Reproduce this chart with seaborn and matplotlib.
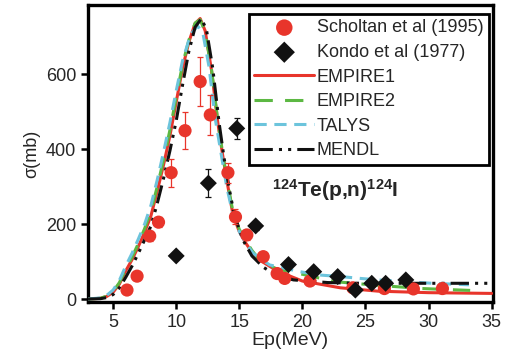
import numpy as np
import pandas as pd
import matplotlib
matplotlib.use("Agg")
import matplotlib.pyplot as plt
import seaborn as sns

# ---------------- data ----------------
sch_x = [6.1, 6.9, 7.9, 8.6, 9.6, 10.7, 11.9, 12.7, 14.1, 14.7, 15.6, 16.9, 18.0, 18.6, 20.6, 24.0, 26.5, 28.8, 31.1]
sch_y = [24, 61, 168, 205, 337, 449, 580, 491, 337, 219, 171, 113, 68, 55, 48, 30, 28, 27, 28]
sch_e = [5, 8, 12, 14, 37, 49, 65, 53, 27, 20, 14, 10, 8, 8, 8, 8, 8, 8, 8]

kon_x = [10.0, 12.55, 14.8, 16.3, 18.9, 20.9, 22.8, 24.2, 25.5, 26.6, 28.2]
kon_y = [115, 309, 455, 195, 92, 73, 60, 24, 42, 42, 51]
kon_e = [6, 38, 29, 10, 8, 8, 8, 8, 8, 12, 8]

emp1_x = [3, 4, 4.5, 5, 5.5, 6, 6.5, 7, 7.5, 8, 8.5, 9, 9.5, 10, 10.5, 11, 11.5, 11.9,
          12.3, 12.8, 13.3, 13.7, 14.1, 14.5, 15.0, 15.5, 16.0, 16.8, 18, 20, 23, 26, 30, 35]
emp1_y = [0, 2, 7, 18, 40, 75, 105, 140, 178, 222, 288, 358, 435, 525, 615, 685, 735, 748,
          715, 610, 470, 380, 300, 225, 180, 150, 125, 100, 75, 48, 30, 21, 17, 15]

emp2_x = [3, 4, 4.5, 5, 5.5, 6, 6.5, 7, 7.5, 8, 8.5, 9, 9.5, 10, 10.5, 11, 11.5, 11.9,
          12.3, 12.8, 13.3, 13.7, 14.1, 14.5, 15.0, 15.5, 16.0, 16.7, 18, 19.6, 22.7, 25.8, 29.5, 33.3]
emp2_y = [0, 2, 8, 20, 44, 80, 112, 148, 188, 235, 300, 372, 450, 538, 625, 690, 736, 745,
          712, 612, 475, 385, 305, 232, 186, 156, 130, 100, 80, 69, 46, 37, 28, 23]

tal_x = [3, 4, 4.5, 5, 5.5, 6, 6.5, 7, 7.5, 8, 8.5, 9, 9.5, 10, 10.5, 11, 11.3, 11.7,
         12.1, 12.6, 13.1, 13.6, 14.0, 14.5, 15.0, 15.5, 16.1, 17.4, 19.8, 21.4, 23, 24.6, 26, 30.3, 33.2]
tal_y = [0, 3, 10, 24, 50, 88, 122, 160, 200, 250, 318, 392, 470, 555, 635, 690, 712, 728,
         712, 620, 480, 380, 300, 225, 180, 150, 122, 91, 73, 64, 60, 55, 51, 42, 38]

men_x = [3, 4, 4.5, 5, 5.5, 6, 6.5, 7, 7.5, 8, 8.5, 9, 9.5, 10, 10.5, 11, 11.5, 12.0,
         12.4, 12.9, 13.4, 13.8, 14.2, 14.6, 15.3, 16.0, 16.9, 18, 19.3, 22, 24.6, 28, 31.6, 35]
men_y = [0, 1, 4, 12, 30, 58, 88, 122, 158, 195, 255, 322, 395, 475, 570, 660, 725, 748,
         718, 615, 470, 375, 295, 225, 157, 115, 85, 62, 51, 44, 42, 42, 42, 42]

xticks = [5, 10, 15, 20, 25, 30, 35]
yticks = [0, 200, 400, 600]

# ---------------- style ----------------
sns.set_style("ticks")
plt.rcParams["font.family"] = ["Liberation Sans", "DejaVu Sans"]
plt.rcParams["mathtext.fontset"] = "custom"
plt.rcParams["mathtext.rm"] = "Liberation Sans"
plt.rcParams["mathtext.bf"] = "Liberation Sans:bold"

RED = "#e8352b"
GREEN = "#5cb843"
CYAN = "#6cc4dc"
BLACK = "#111111"

fig = plt.figure(figsize=(5.05, 3.60), dpi=100)
ax = fig.add_axes([0.174, 0.161, 0.802, 0.825])

sns.lineplot(x=emp1_x, y=emp1_y, ax=ax, color=RED, lw=2.2, label="EMPIRE1",
             sort=False, estimator=None, zorder=3)
sns.lineplot(x=emp2_x, y=emp2_y, ax=ax, color=GREEN, lw=2.2, label="EMPIRE2",
             sort=False, estimator=None, zorder=3, dashes=False)
sns.lineplot(x=tal_x, y=tal_y, ax=ax, color=CYAN, lw=2.2, label="TALYS",
             sort=False, estimator=None, zorder=3)
sns.lineplot(x=men_x, y=men_y, ax=ax, color=BLACK, lw=2.2, label="MENDL",
             sort=False, estimator=None, zorder=3)

lines = ax.get_lines()
lines[1].set_dashes([6, 4])
lines[2].set_dashes([4, 2.5])
lines[3].set_dashes([6, 2, 1, 2, 1, 2])

ax.errorbar(sch_x, sch_y, yerr=sch_e, fmt="none", ecolor=RED, elinewidth=0.9,
            capsize=2.5, capthick=0.9, zorder=4)
ax.errorbar(kon_x, kon_y, yerr=kon_e, fmt="none", ecolor=BLACK, elinewidth=0.9,
            capsize=2.5, capthick=0.9, zorder=4)
sns.scatterplot(x=sch_x, y=sch_y, ax=ax, color=RED, marker="o", s=90,
                edgecolor="none", label="Scholtan et al (1995)", zorder=5)
sns.scatterplot(x=kon_x, y=kon_y, ax=ax, color=BLACK, marker="D", s=75,
                edgecolor="none", label="Kondo et al (1977)", zorder=5)

ax.set_xlim(3, 35.1)
ax.set_ylim(-8, 784)
ax.set_xticks(xticks)
ax.set_yticks(yticks)
ax.tick_params(axis="both", labelsize=13, width=1.8, length=5, direction="out", color="black")
for s in ax.spines.values():
    s.set_linewidth(2.4)
    s.set_color("black")
ax.set_xlabel("Ep(MeV)", fontsize=14, labelpad=1)
ax.set_ylabel("σ(mb)", fontsize=13, labelpad=4)

ax.text(22.6, 290, r"$\mathbf{^{124}Te(p{,}n)^{124}I}$", fontsize=15, ha="center", va="center")

h, l = ax.get_legend_handles_labels()
order = [l.index(n) for n in ["Scholtan et al (1995)", "Kondo et al (1977)", "EMPIRE1", "EMPIRE2", "TALYS", "MENDL"]]
leg = ax.legend([h[i] for i in order], [l[i] for i in order], loc="upper right",
                bbox_to_anchor=(0.99, 0.97), borderaxespad=0, fontsize=13,
                frameon=True, fancybox=False, framealpha=1, edgecolor="black",
                handlelength=3.3, handletextpad=0.15, labelspacing=0.42,
                borderpad=0.3, markerscale=1.25)
leg.get_frame().set_linewidth(2.0)

fig.savefig("out.png", dpi=100)
